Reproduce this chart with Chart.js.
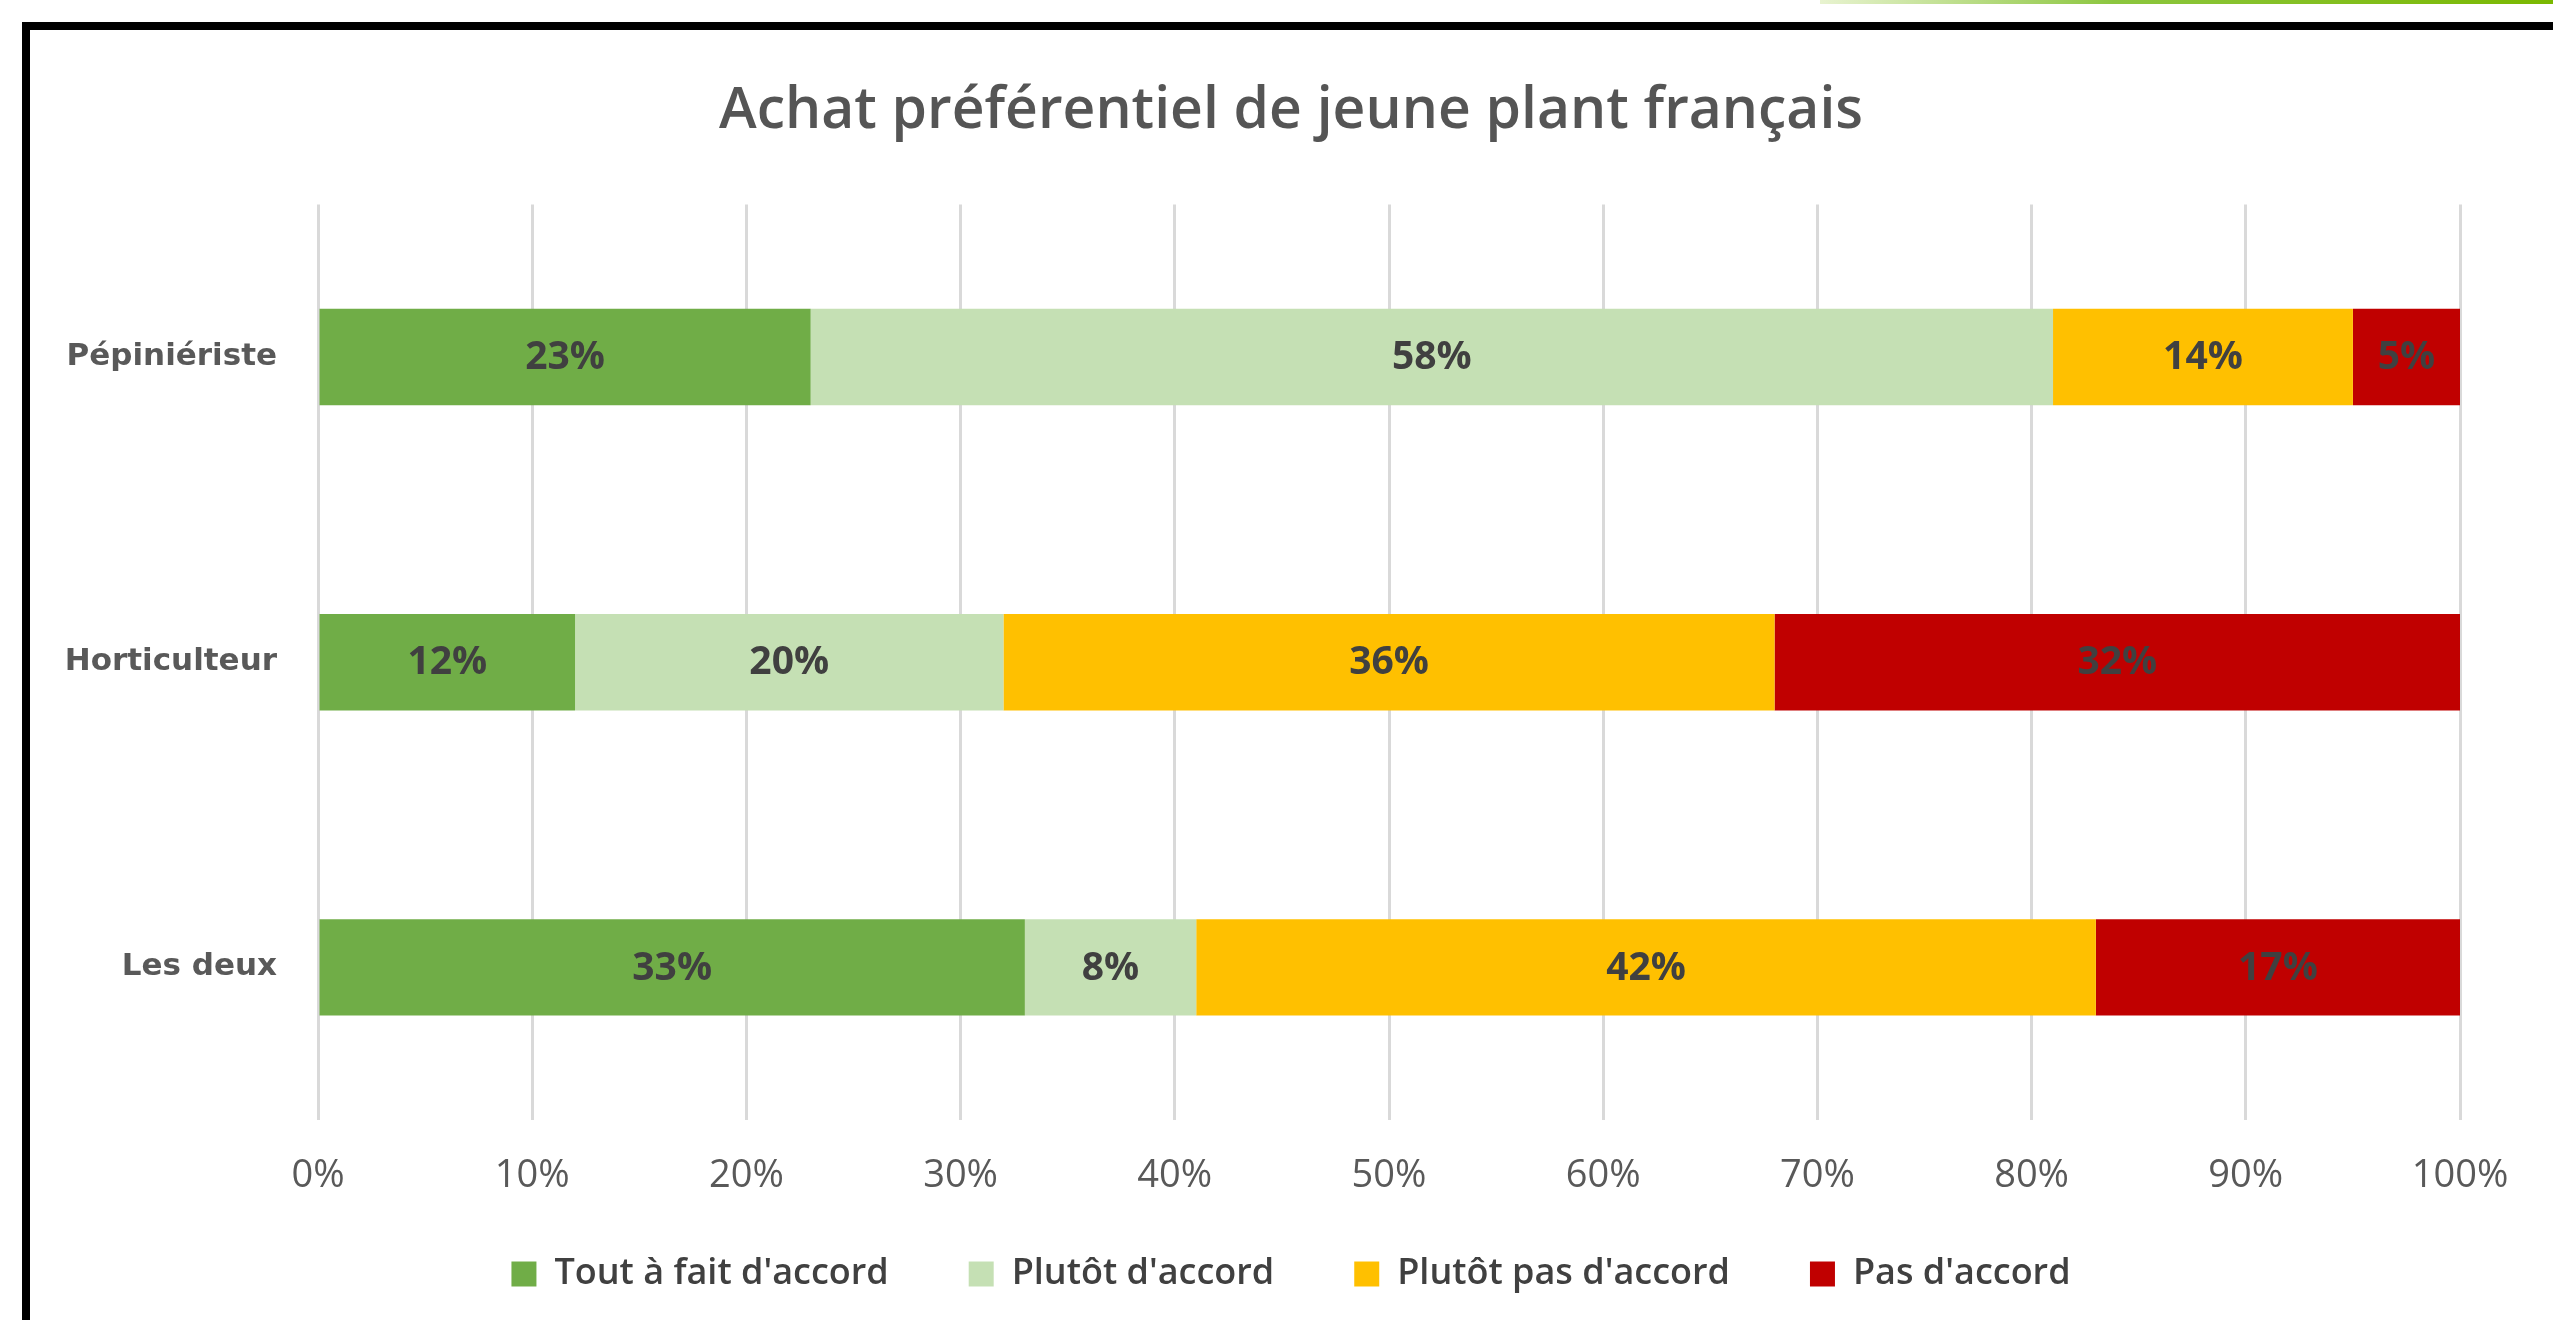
<!DOCTYPE html>
<html>
<head>
<meta charset="utf-8">
<script src="https://cdn.jsdelivr.net/npm/chart.js@4.4.1/dist/chart.umd.min.js"></script>
<style>
  html, body { margin: 0; padding: 0; background: #ffffff; width: 2553px; height: 1320px; overflow: hidden; }
  #frame { position: absolute; left: 22px; top: 22px; width: 2600px; height: 1400px; border-top: 8px solid #000; border-left: 8px solid #000; }
  #greenline { position: absolute; left: 1820px; top: 0; width: 733px; height: 4px; background: linear-gradient(to right, #e8f3d0, #8cc63f 40%, #7ab800); }
  #wrap { position: absolute; left: 30px; top: 30px; width: 2523px; height: 1290px; }
</style>
</head>
<body>
<div id="greenline"></div>
<div id="frame"></div>
<div id="wrap"><canvas id="c" width="2523" height="1290"></canvas></div>
<script>
const title = "Achat préférentiel de jeune plant français";
const categories = ["Pépiniériste", "Horticulteur", "Les deux"];
const seriesNames = ["Tout à fait d'accord", "Plutôt d'accord", "Plutôt pas d'accord", "Pas d'accord"];
const toutAFait = [23, 12, 33];
const plutotAccord = [58, 20, 8];
const plutotPas = [14, 36, 42];
const pasAccord = [5, 32, 17];
const colors = ["#70AD47", "#C5E0B4", "#FFC000", "#C00000"];
const xTicks = [0, 10, 20, 30, 40, 50, 60, 70, 80, 90, 100];

const seriesValues = [toutAFait, plutotAccord, plutotPas, pasAccord];

const labelPlugin = {
  id: 'segLabels',
  afterDatasetsDraw(chart) {
    const ctx = chart.ctx;
    ctx.save();
    ctx.font = "bold 39px 'Open Sans'";
    ctx.fillStyle = "#404040";
    ctx.textAlign = "center";
    ctx.textBaseline = "middle";
    chart.data.datasets.forEach((ds, i) => {
      const meta = chart.getDatasetMeta(i);
      meta.data.forEach((el, j) => {
        const cx = (el.x + el.base) / 2;
        ctx.fillText(ds.data[j] + "%", cx, el.y + 1);
      });
    });
    ctx.restore();
  }
};

// widen the label clipping areas of the axes after layout (label positions are unchanged)
const unclipPlugin = {
  id: 'unclip',
  afterLayout(chart) {
    const y = chart.scales.y;
    y.left = 0;
    const x = chart.scales.x;
    x.bottom = x.top + 120;
  }
};

new Chart(document.getElementById('c'), {
  type: 'bar',
  data: {
    labels: categories,
    datasets: seriesNames.map((n, i) => ({
      label: n,
      data: seriesValues[i],
      backgroundColor: colors[i],
      borderWidth: 0,
      barPercentage: 0.316,
      categoryPercentage: 1.0
    }))
  },
  options: {
    indexAxis: 'y',
    responsive: false,
    animation: false,
    devicePixelRatio: 1,
    layout: { padding: { left: 92, right: 93, top: 48, bottom: 18 } },
    plugins: {
      title: {
        display: true,
        text: title,
        color: "#555555",
        font: { family: "'Open Sans'", size: 57, weight: '600' },
        padding: { top: 0, bottom: 58 }
      },
      legend: {
        position: 'bottom',
        maxHeight: 130,
        labels: {
          color: "#404040",
          font: { family: "'Open Sans'", size: 36, weight: '600' },
          boxWidth: 25,
          boxHeight: 25,
          padding: 80
        }
      },
      tooltip: { enabled: false }
    },
    scales: {
      x: {
        stacked: true,
        min: 0,
        max: 100,
        afterBuildTicks(scale) { scale.ticks = xTicks.map(v => ({ value: v })); },
        afterFit(scale) { scale.height = 56; },
        ticks: {
          callback: v => v + "%",
          color: "#595959",
          font: { family: "'Open Sans'", size: 38 },
          padding: 33
        },
        grid: { color: "#d9d9d9", lineWidth: 3, drawTicks: false },
        border: { display: false }
      },
      y: {
        stacked: true,
        afterFit(scale) { scale.width = 196; },
        ticks: {
          color: "#595959",
          font: { family: "'DejaVu Sans'", size: 31, weight: 'bold' },
          padding: 33
        },
        grid: { display: false },
        border: { display: false }
      }
    }
  },
  plugins: [labelPlugin, unclipPlugin]
});
</script>
</body>
</html>
